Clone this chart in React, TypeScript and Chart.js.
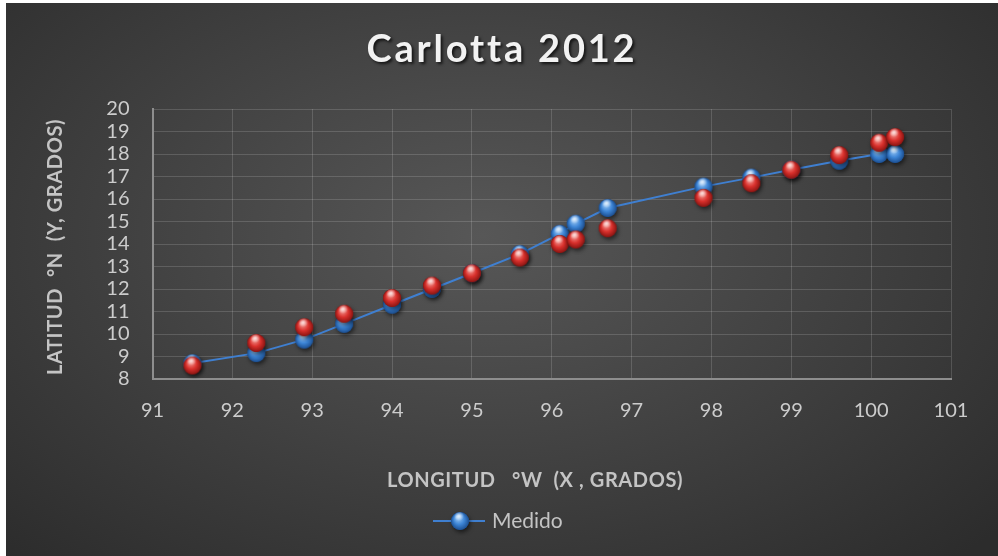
import React, { useEffect, useRef } from "react";
import { Chart, registerables } from "chart.js";

Chart.register(...registerables);

const longitudes = [91.5, 92.3, 92.9, 93.4, 94.0, 94.5, 95.0, 95.6, 96.1, 96.3, 96.7, 97.9, 98.5, 99.0, 99.6, 100.1, 100.3];
const medido = [8.7, 9.15, 9.75, 10.45, 11.3, 12.0, 12.7, 13.55, 14.45, 14.9, 15.6, 16.55, 16.95, 17.3, 17.7, 18.0, 18.0];
const calculado = [8.6, 9.6, 10.3, 10.9, 11.6, 12.15, 12.7, 13.4, 14.0, 14.2, 14.7, 16.05, 16.7, 17.3, 17.95, 18.5, 18.75];

const TITLE = "Carlotta 2012";
const X_TITLE = "LONGITUD   °W  (X , GRADOS)";
const Y_TITLE = "LATITUD  °N  (Y, GRADOS)";
const LEGEND_LABEL = "Medido";

const X_MIN = 91;
const X_MAX = 101;
const Y_MIN = 8;
const Y_MAX = 20;

function makeBall(base: string, light: string, dark: string, r: number): HTMLCanvasElement {
  const pad = 6;
  const size = (r + pad) * 2;
  const c = document.createElement("canvas");
  c.width = size;
  c.height = size;
  const ctx = c.getContext("2d")!;
  const cx = size / 2;
  const cy = size / 2;
  ctx.save();
  ctx.shadowColor = "rgba(0,0,0,0.55)";
  ctx.shadowBlur = 4;
  ctx.shadowOffsetX = 1.5;
  ctx.shadowOffsetY = 2.5;
  ctx.beginPath();
  ctx.arc(cx, cy, r, 0, Math.PI * 2);
  ctx.fillStyle = dark;
  ctx.fill();
  ctx.restore();
  const g = ctx.createRadialGradient(cx - r * 0.25, cy - r * 0.45, r * 0.1, cx, cy, r);
  g.addColorStop(0, light);
  g.addColorStop(0.55, base);
  g.addColorStop(1, dark);
  ctx.beginPath();
  ctx.arc(cx, cy, r, 0, Math.PI * 2);
  ctx.fillStyle = g;
  ctx.fill();
  const h = ctx.createRadialGradient(cx - r * 0.1, cy - r * 0.55, 0, cx - r * 0.1, cy - r * 0.55, r * 0.55);
  h.addColorStop(0, "rgba(255,255,255,0.75)");
  h.addColorStop(1, "rgba(255,255,255,0)");
  ctx.beginPath();
  ctx.arc(cx, cy, r, 0, Math.PI * 2);
  ctx.fillStyle = h;
  ctx.fill();
  return c;
}

export default function App() {
  const ref = useRef<HTMLCanvasElement | null>(null);

  useEffect(() => {
    document.body.style.margin = "0";
    document.body.style.background = "#ffffff";
    if (!ref.current) return;
    const blueBall = makeBall("#3d85d6", "#9cc9f5", "#1c4f91", 9);
    const redBall = makeBall("#d9302c", "#f59a94", "#8a1512", 9);

    const textPlugin = {
      id: "texts",
      afterDraw(chart: any) {
        const ctx = chart.ctx as CanvasRenderingContext2D;
        ctx.save();
        ctx.font = "bold 38px Lato";
        (ctx as any).letterSpacing = "2.8px";
        ctx.textAlign = "center";
        ctx.textBaseline = "middle";
        ctx.shadowColor = "rgba(0,0,0,0.7)";
        ctx.shadowBlur = 3;
        ctx.shadowOffsetX = 2;
        ctx.shadowOffsetY = 2;
        ctx.fillStyle = "#f2f2f2";
        ctx.fillText(TITLE, 496, 47);
        ctx.restore();

        ctx.save();
        ctx.font = "bold 20px Lato";
        (ctx as any).letterSpacing = "0.6px";
        ctx.fillStyle = "#c4c4c4";
        ctx.textAlign = "center";
        ctx.textBaseline = "middle";
        ctx.fillText(X_TITLE, 529, 478);
        ctx.translate(50, 244);
        ctx.rotate(-Math.PI / 2);
        ctx.fillText(Y_TITLE, 0, 0);
        ctx.restore();

        ctx.save();
        ctx.strokeStyle = "#3f7fd0";
        ctx.lineWidth = 2;
        ctx.beginPath();
        ctx.moveTo(427, 518);
        ctx.lineTo(479, 518);
        ctx.stroke();
        ctx.drawImage(blueBall, 454 - blueBall.width / 2, 518 - blueBall.height / 2);
        ctx.font = "21px Lato";
        ctx.fillStyle = "#c4c4c4";
        ctx.textAlign = "left";
        ctx.textBaseline = "middle";
        ctx.fillText(LEGEND_LABEL, 486, 518);
        ctx.restore();
      },
    };

    const tickFont = { family: "Lato", size: 20 };
    const chart = new Chart(ref.current, {
      type: "line",
      data: {
        datasets: [
          {
            label: "Calculado",
            data: longitudes.map((x, i) => ({ x, y: calculado[i] })),
            showLine: false,
            pointStyle: redBall as any,
            pointRadius: 9,
            order: 0,
          },
          {
            label: LEGEND_LABEL,
            data: longitudes.map((x, i) => ({ x, y: medido[i] })),
            borderColor: "#3f7fd0",
            borderWidth: 2,
            tension: 0,
            pointStyle: blueBall as any,
            pointRadius: 9,
            order: 1,
          },
        ],
      },
      options: {
        animation: false,
        responsive: false,
        layout: { padding: { left: 0, top: 106, right: 47, bottom: 117 } },
        plugins: {
          legend: { display: false },
          title: { display: false },
          tooltip: { enabled: false },
        },
        scales: {
          x: {
            type: "linear",
            min: X_MIN,
            max: X_MAX,
            afterFit: (s: any) => {
              s.height = 60;
            },
            ticks: { stepSize: 1, autoSkip: false, color: "#cccccc", font: tickFont, padding: 20 },
            grid: { color: "rgba(255,255,255,0.15)", lineWidth: 1, drawTicks: false },
            border: { color: "#8e8e8e", width: 2 },
          },
          y: {
            type: "linear",
            min: Y_MIN,
            max: Y_MAX,
            afterFit: (s: any) => {
              s.width = 146.5;
            },
            ticks: { stepSize: 1, autoSkip: false, color: "#cccccc", font: tickFont, padding: 23 },
            grid: { color: "rgba(255,255,255,0.15)", lineWidth: 1, drawTicks: false },
            border: { color: "#8e8e8e", width: 2 },
          },
        },
      },
      plugins: [textPlugin],
    } as any);
    return () => chart.destroy();
  }, []);

  return (
    <div style={{ position: "relative", width: 998, height: 556, background: "#ffffff", overflow: "hidden" }}>
      <div
        style={{
          position: "absolute",
          left: 6,
          top: 3,
          width: 992,
          height: 553,
          background: "radial-gradient(ellipse 70% 80% at 48% 42%, #575757 0%, #464646 40%, #2c2c2c 100%)",
        }}
      >
        <canvas ref={ref} width={992} height={553} style={{ display: "block" }} />
      </div>
    </div>
  );
}
